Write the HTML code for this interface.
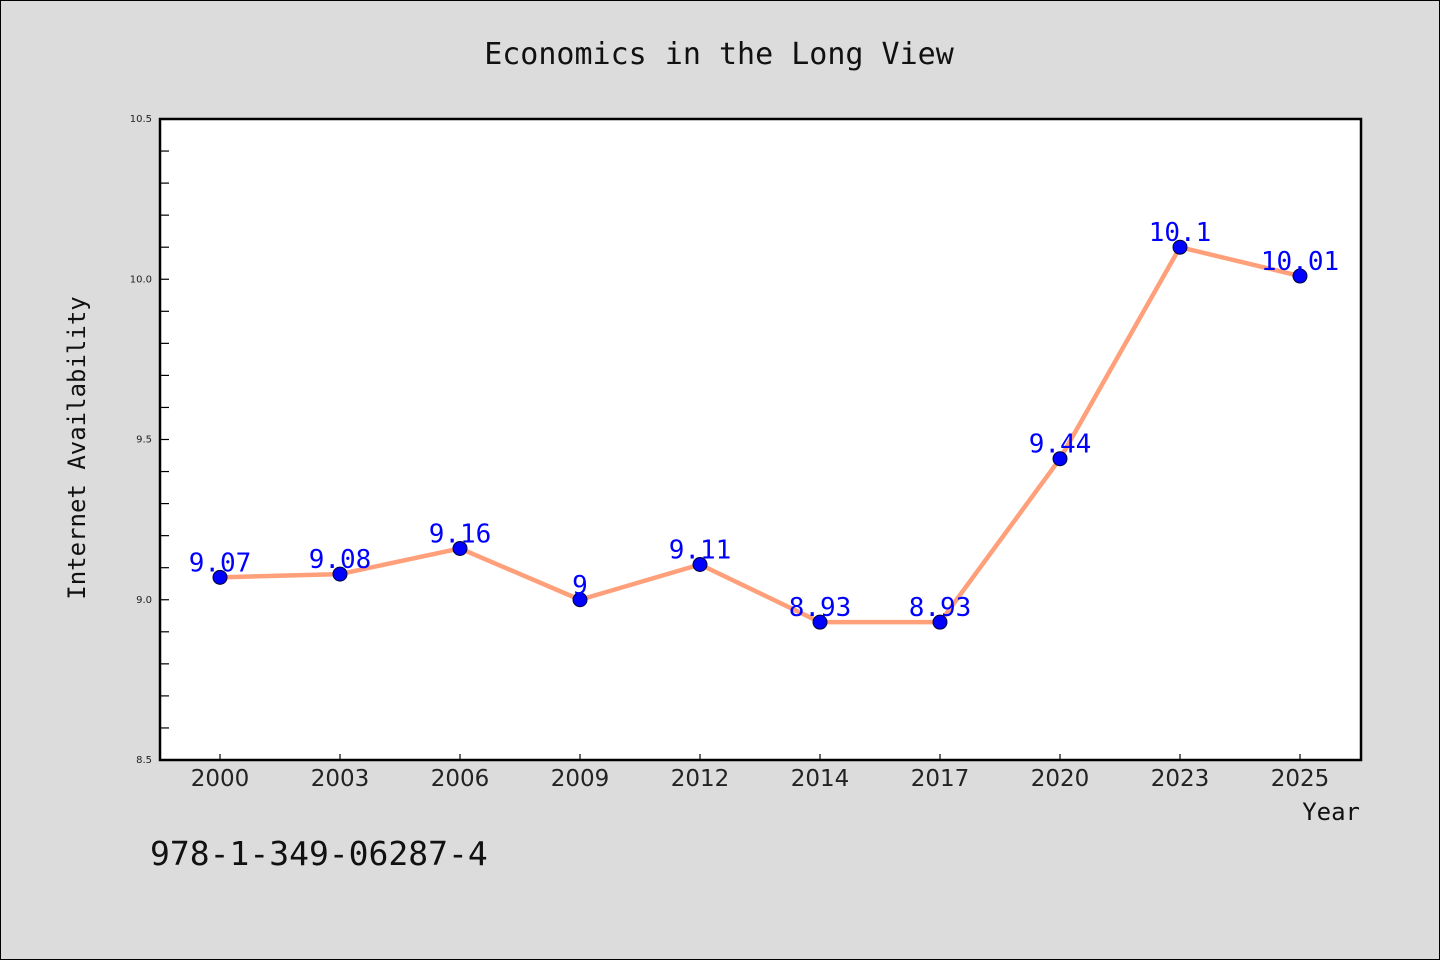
<!DOCTYPE html>
<html><head><meta charset="utf-8"><style>
body{margin:0;background:#dcdcdc;}
svg{display:block}
.mono{font-family:"DejaVu Sans Mono","Liberation Mono",monospace}
</style></head><body>
<svg width="1440" height="960">
<rect x="0.5" y="0.5" width="1439" height="959" fill="#dcdcdc" stroke="#000"/>
<text x="719" y="64" text-anchor="middle" class="mono" font-size="30" fill="#111">Economics in the Long View</text>
<rect x="160" y="119" width="1201" height="641" fill="#fff"/>
<g id="axes"></g>
<g id="marks"></g>
<rect x="160" y="119" width="1201" height="641" fill="none" stroke="#000" stroke-width="2.5"/>
<text transform="translate(85,448) rotate(-90)" text-anchor="middle" class="mono" font-size="24" fill="#111">Internet Availability</text>
<text x="1360" y="820" text-anchor="end" class="mono" font-size="24" fill="#111">Year</text>
<text x="150" y="865" class="mono" font-size="33" fill="#111">978-1-349-06287-4</text>
</svg>
<script>
const categories=["2000","2003","2006","2009","2012","2014","2017","2020","2023","2025"];
const values=[9.07,9.08,9.16,9.0,9.11,8.93,8.93,9.44,10.1,10.01];
const valueLabels=["9.07","9.08","9.16","9","9.11","8.93","8.93","9.44","10.1","10.01"];
const yTicks=["8.5","9.0","9.5","10.0","10.5"];
const NS="http://www.w3.org/2000/svg";
const L=160,R=1361,T=119,B=760,ymin=8.5,ymax=10.5;
const x=i=>220+i*(1300-220)/(categories.length-1);
const y=v=>B-(v-ymin)/(ymax-ymin)*(B-T);
function mk(tag,attrs,parent,text){const e=document.createElementNS(NS,tag);for(const k in attrs)e.setAttribute(k,attrs[k]);if(text!==undefined)e.textContent=text;document.getElementById(parent).appendChild(e);return e;}
for(let v=ymin;v<=ymax+1e-9;v+=0.1){const t=mk('line',{x1:L,x2:L+9,y1:y(v),y2:y(v),stroke:'#000','stroke-width':1.2},'axes');

}
yTicks.forEach(s=>{const t=mk('text',{x:L-8,y:y(parseFloat(s))+3,'text-anchor':'end','font-size':10,'font-family':'DejaVu Sans, sans-serif',fill:'#222'},'axes',s);

});
categories.forEach((c,i)=>{const tk=mk('line',{x1:x(i),x2:x(i),y1:B,y2:B-6,stroke:'#000','stroke-width':1.2},'axes');


const t=mk('text',{x:x(i),y:B+26,'text-anchor':'middle','font-size':23,'font-family':'DejaVu Sans, sans-serif',fill:'#222'},'axes',c);

});
const line=mk('polyline',{points:values.map((v,i)=>x(i)+','+y(v)).join(' '),fill:'none',stroke:'#FFA07A','stroke-width':4.5,'stroke-linejoin':'round'},'marks');


values.forEach((v,i)=>{const p=mk('circle',{cx:x(i),cy:y(v),r:7,fill:'#0000ff',stroke:'#000033','stroke-width':1},'marks');


const t=mk('text',{x:x(i),y:y(v)-6,'text-anchor':'middle','font-size':26,'font-family':'DejaVu Sans Mono, monospace',fill:'#0000ff'},'marks',valueLabels[i]);

});
</script>
</body></html>
